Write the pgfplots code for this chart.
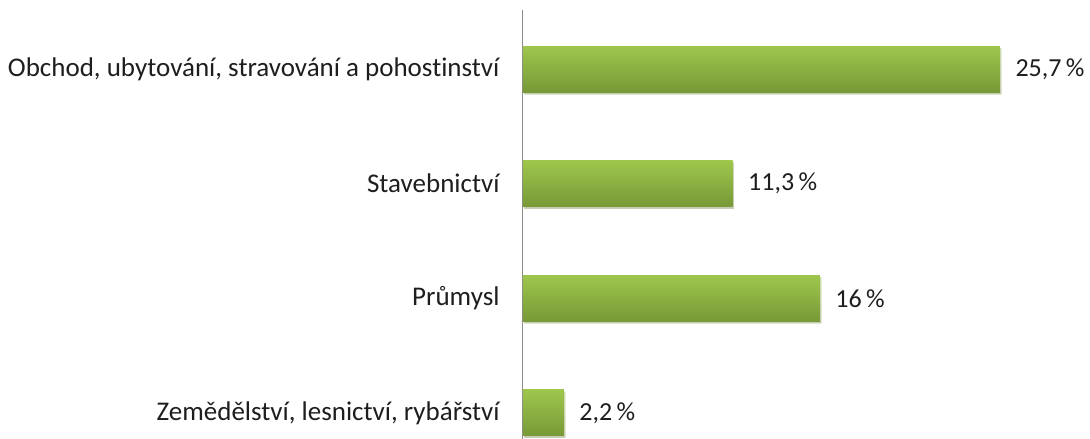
\documentclass[border=0pt]{standalone}
\usepackage{pgfplots}
\pgfplotsset{compat=1.18}
\usetikzlibrary{shadows}
\usepackage{fontspec}
\setmainfont[RawFeature={-liga;-clig;-calt;-dlig}]{Carlito}
\definecolor{bartop}{RGB}{158,198,76}
\definecolor{barbot}{RGB}{120,153,55}
\definecolor{txt}{RGB}{30,30,30}
\begin{document}
\begin{tikzpicture}
\useasboundingbox (-523bp,0) rectangle (567bp,439bp);
\begin{axis}[
  scale only axis,
  width=567bp, height=429bp,
  xmin=0, xmax=30.55,
  ymin=-0.227, ymax=3.515,
  axis y line*=left,
  axis x line=none,
  y axis line style={-, draw=black!45, line width=1bp},
  ytick={0,1,2,3},
  yticklabels={{Zemědělství, lesnictví, rybářství},{Průmysl},{Stavebnictví},{Obchod, ubytování, stravování a pohostinství}},
  major tick length=0pt,
  yticklabel style={font=\fontsize{27bp}{31bp}\selectfont, text=txt, xshift=-20bp},
  xbar, bar width=46bp, bar shift=0pt,
  /pgf/number format/assume math mode=true,
  nodes near coords={\pgfmathprintnumber[use comma]{\pgfplotspointmeta}\,\%},
  nodes near coords align=horizontal,
  every node near coord/.append style={font=\fontsize{26bp}{30bp}\selectfont, text=txt, xshift=12bp},
  every axis plot/.append style={draw=none, top color=bartop, bottom color=barbot,
     drop shadow={shadow xshift=1.5bp, shadow yshift=-2bp, opacity=0.25}},
  clip=false,
]
\addplot coordinates {(2.2,0)};
\addplot coordinates {(16,1)};
\addplot coordinates {(11.3,2)};
\addplot coordinates {(25.7,3)};
\end{axis}
\end{tikzpicture}
\end{document}
